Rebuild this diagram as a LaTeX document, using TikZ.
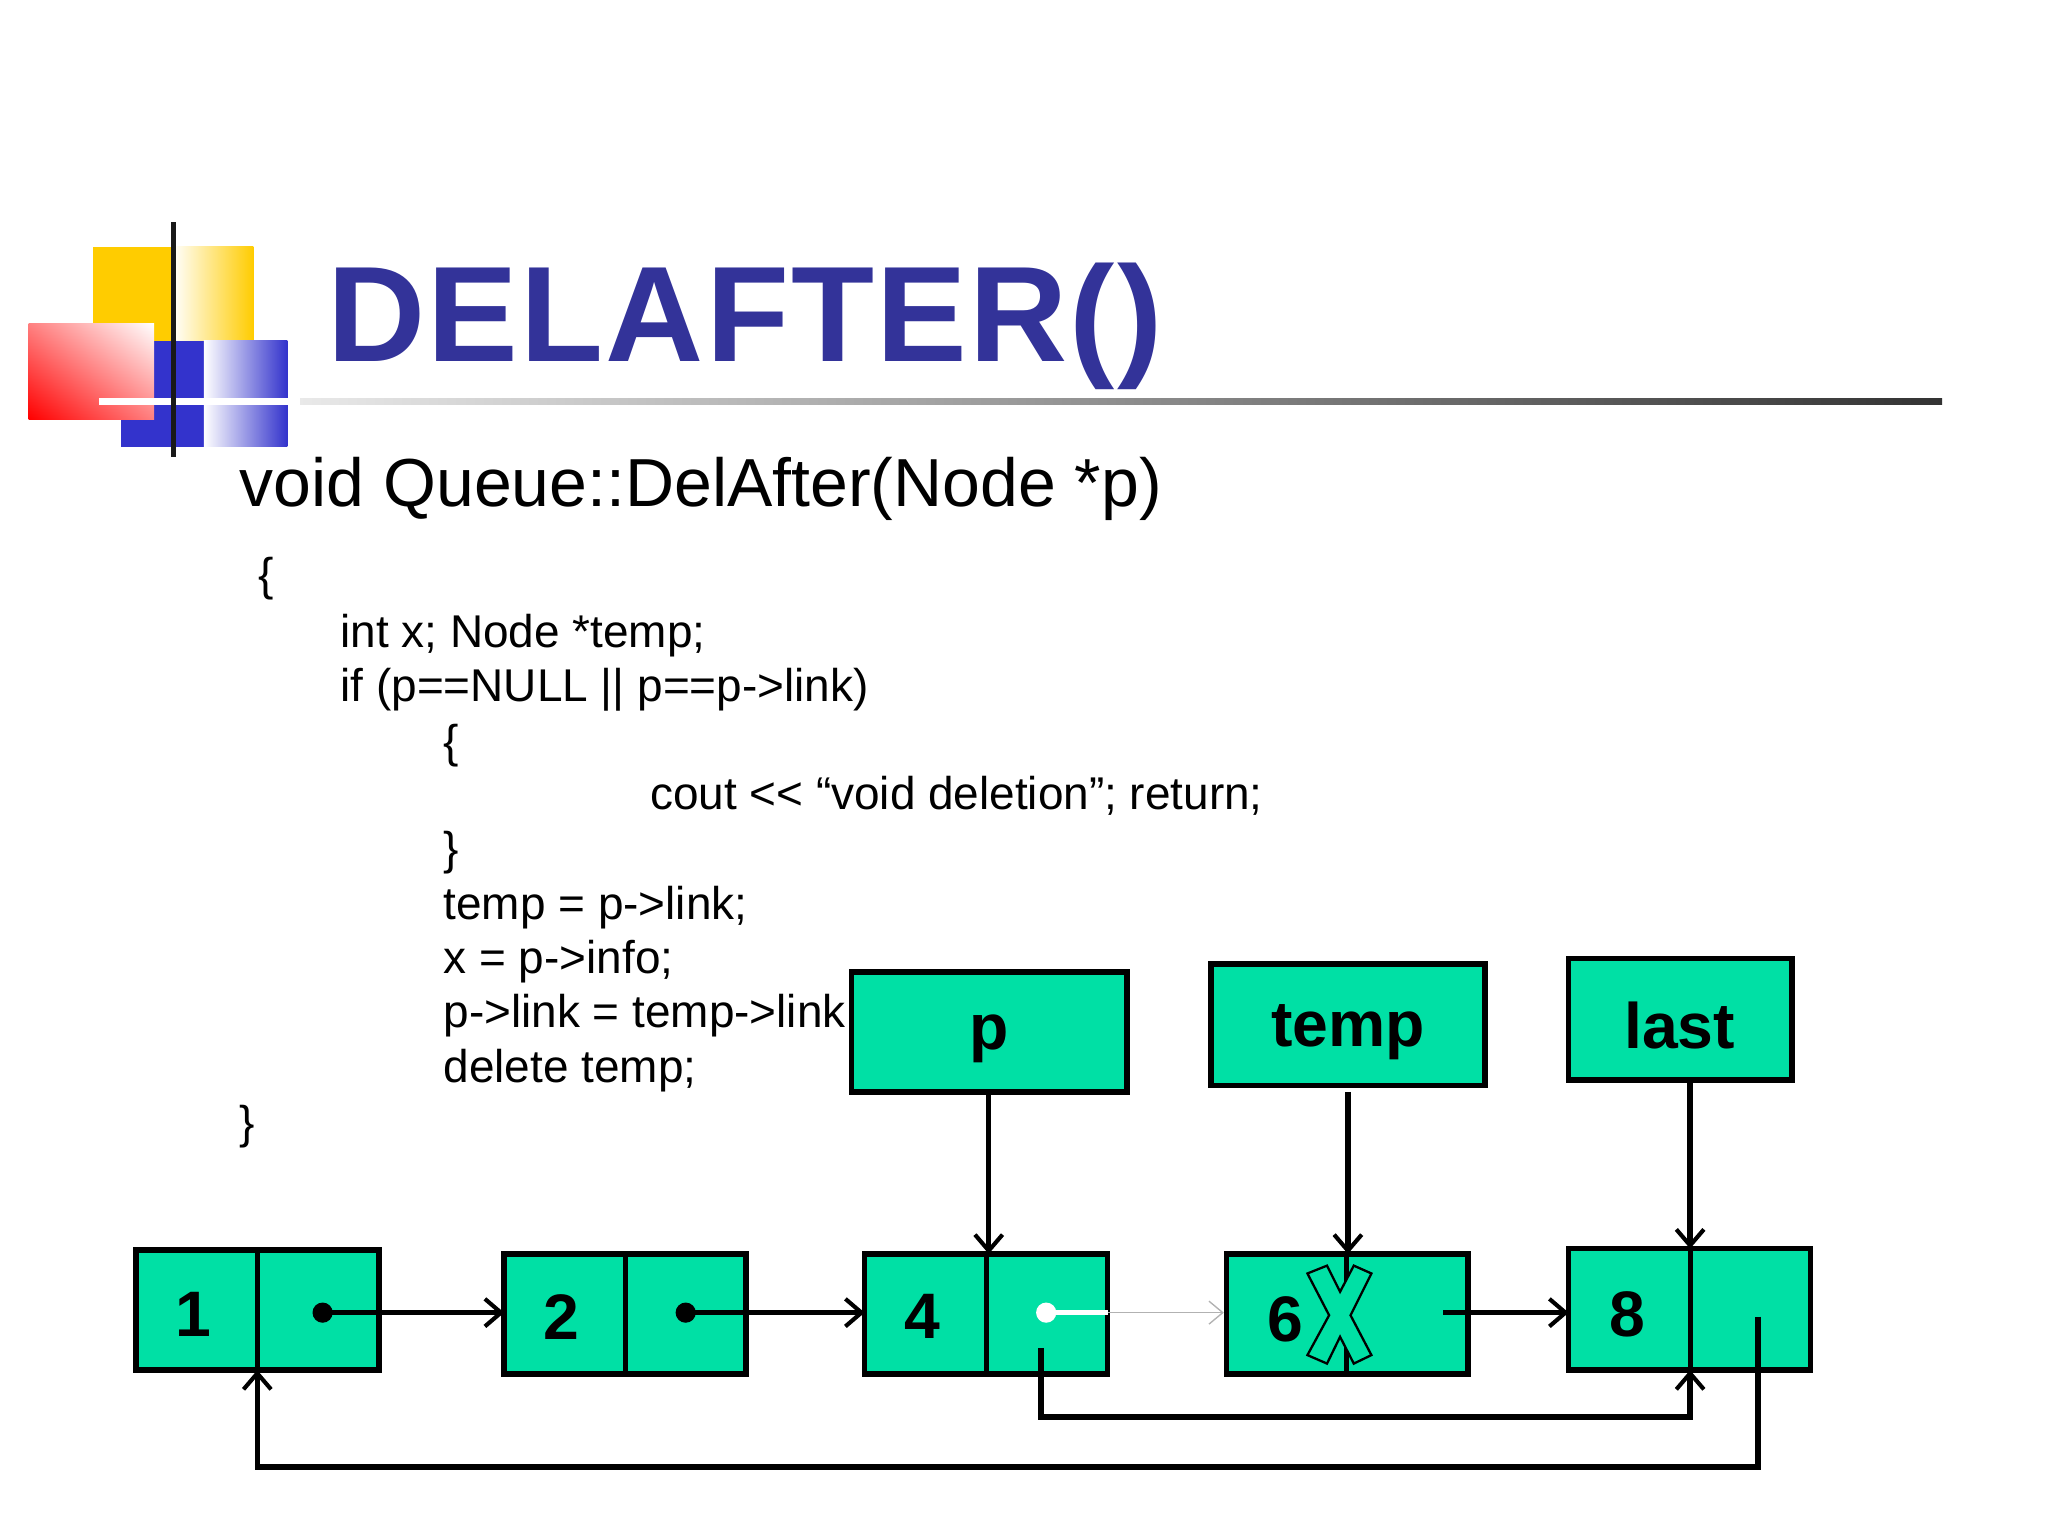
\documentclass[tikz,border=0pt]{standalone}
\usepackage{fontspec}
\setmainfont{Liberation Sans}
\usetikzlibrary{arrows.meta,shadings}
\definecolor{nodegreen}{RGB}{0,224,165}
\definecolor{titleblue}{RGB}{51,51,153}
\definecolor{logoyellow}{RGB}{255,204,0}
\definecolor{logoblue}{RGB}{51,51,204}
\begin{document}
\begin{tikzpicture}[x=0.01cm,y=-0.01cm,
  box/.style={draw=black,line width=1.2pt,fill=nodegreen},
  lbl/.style={font=\fontsize{14}{16}\selectfont\bfseries,anchor=center},
  code/.style={font=\fontsize{10}{12}\selectfont,anchor=base west,inner sep=0pt},
  link/.style={line width=1.2pt,-{Straight Barb[length=3.5pt,width=6pt,line width=0.9pt]}},
  plain/.style={line width=1.1pt}]
\useasboundingbox (0,0) rectangle (1568,1176);
% logo
\fill[logoyellow] (71,189) rectangle (132,261);
\shade[left color=white,right color=logoyellow] (132,189) rectangle (194,261);
\fill[logoblue] (93,261) rectangle (156,342);
\shade[left color=white,right color=logoblue] (156,261) rectangle (220,342);
\shade[lower left=red,upper right=white,lower right=red!50,upper left=red!50] (22,248) rectangle (118,321);
\shade[left color=white,right color=black!80] (76,305) rectangle (1487,310);
\fill[white] (76,305) rectangle (230,310);
\draw[line width=1.2pt,black!90] (133,170) -- (133,350);
\node[anchor=base west,inner sep=0pt,text=titleblue,font=\fontsize{29.6}{32}\selectfont\bfseries\addfontfeatures{LetterSpace=1.6}] (title) at (250,277) {DELAFTER()};
% code
\node[anchor=base west,inner sep=0pt,font=\fontsize{14.8}{18}\selectfont] (sig) at (183,388) {void Queue::DelAfter(Node *p)};
\node[code] (c1) at (197,452) {\{};
\node[code] (c2) at (260,496) {int x; Node *temp;};
\node[code] (c3) at (260,537) {if (p==NULL || p==p->link)};
\node[code] (c4) at (339,580) {\{};
\node[code] (c5) at (497,620) {cout {<}{<} “void deletion”; return;};
\node[code] (c6) at (339,662) {\}};
\node[code] (c7) at (339,704) {temp = p->link;};
\node[code] (c8) at (339,745) {x = p->info;};
\node[code] (c9) at (339,787) {p->link = temp->link;};
\node[code] (c10) at (339,829) {delete temp;};
\node[code] (c11) at (183,872) {\}};
% pointer boxes
\draw[box] (652,744) rectangle (863,836);
\node[lbl] (p) at (757,795) {p};
\draw[box] (927,738) rectangle (1137,831);
\node[lbl] (temp) at (1032,790) {temp};
\draw[box] (1201,734) rectangle (1372,827);
\node[lbl] (last) at (1286,785) {last};
% list nodes
\draw[box] (104,957) rectangle (290,1049); \draw[plain] (197,957) -- (197,1049);
\draw[box] (386,960) rectangle (571,1052); \draw[plain] (479,960) -- (479,1052);
\draw[box] (662,960) rectangle (848,1052); \draw[plain] (755,960) -- (755,1052);
\draw[box] (939,960) rectangle (1124,1052); \draw[plain] (1031,960) -- (1031,1052);
\draw[box] (1201,956) rectangle (1386,1049); \draw[plain] (1294,956) -- (1294,1049);
\node[lbl] (n1) at (148,1006) {1};
\node[lbl] (n2) at (430,1008) {2};
\node[lbl] (n4) at (706,1008) {4};
\node[lbl] (n6) at (984,1010) {6};
\node[lbl] (n8) at (1246,1006) {8};
\filldraw[fill=nodegreen,draw=black,line width=0.5pt] (1001,975) -- (1016,969) -- (1026,989) -- (1036.5,969) -- (1050,975) -- (1034,1007) -- (1050,1037.5) -- (1036.5,1044) -- (1026,1023.5) -- (1016,1044) -- (1001,1037.5) -- (1017.6,1007) -- cycle;
% coordinates
\coordinate (d1) at (247,1005); \coordinate (e2) at (386,1005);
\coordinate (d2) at (525,1005); \coordinate (e4) at (662,1005);
\coordinate (d4) at (801,1005); \coordinate (e6) at (937,1005);
\coordinate (d6) at (1105,1005); \coordinate (e8) at (1201,1005);
\fill (d1) circle (2.2pt); \fill (d2) circle (2.2pt);
\draw[link] (d1) -- (e2);
\draw[link] (d2) -- (e4);
\draw[white,line width=1pt] (d4) -- (848,1005);
\draw[black!30,line width=0.3pt,-{Straight Barb[length=3pt,width=5pt]}] (848,1005) -- (e6);
\fill[white] (d4) circle (2.2pt);
\draw[link] (d6) -- (e8);
\draw[link] (757,836) -- (757,960);
\draw[link] (1032,836) -- (1032,960);
\draw[link] (1294,827) -- (1294,956);
\draw[link] (797,1032) -- (797,1085) -- (1294,1085) -- (1294,1049);
\draw[link] (1346,1008) -- (1346,1123) -- (197,1123) -- (197,1049);
\end{tikzpicture}
\end{document}
